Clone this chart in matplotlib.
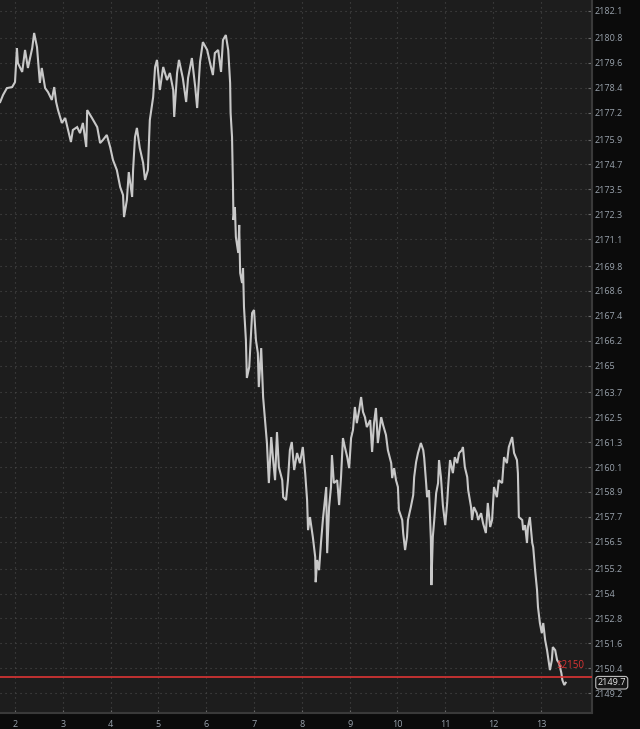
import matplotlib
matplotlib.use("Agg")
import matplotlib.pyplot as plt

# ---- data ----
hours = [1.69, 1.75, 1.83, 1.94, 2.00, 2.04, 2.06, 2.15, 2.21, 2.27, 2.36, 2.40, 2.46, 2.52, 2.56,
         2.63, 2.69, 2.77, 2.82, 2.86, 2.90, 2.98, 3.05, 3.11, 3.17, 3.21, 3.30, 3.36, 3.42, 3.49,
         3.51, 3.61, 3.72, 3.78, 3.84, 3.92, 3.99, 4.05, 4.13, 4.20, 4.26, 4.28, 4.34, 4.38, 4.45,
         4.47, 4.51, 4.55, 4.61, 4.68, 4.72, 4.78, 4.82, 4.89, 4.93, 4.97, 5.03, 5.10, 5.18, 5.24,
         5.31, 5.33, 5.39, 5.43, 5.51, 5.58, 5.62, 5.70, 5.77, 5.81, 5.87, 5.93, 6.02, 6.08, 6.14,
         6.18, 6.25, 6.31, 6.35, 6.41, 6.46, 6.50, 6.51, 6.54, 6.56, 6.57, 6.60, 6.62, 6.67, 6.69,
         6.71, 6.75, 6.77, 6.79, 6.83, 6.85, 6.90, 6.96, 7.00, 7.04, 7.08, 7.10, 7.15, 7.19, 7.23,
         7.27, 7.31, 7.36, 7.40, 7.44, 7.48, 7.52, 7.59, 7.61, 7.67, 7.71, 7.75, 7.79, 7.84, 7.90,
         7.96, 8.02, 8.07, 8.11, 8.13, 8.17, 8.23, 8.28, 8.29, 8.32, 8.36, 8.40, 8.44, 8.51, 8.53,
         8.57, 8.61, 8.63, 8.67, 8.74, 8.78, 8.82, 8.86, 8.90, 8.95, 8.99, 9.03, 9.07, 9.11, 9.15,
         9.20, 9.24, 9.28, 9.32, 9.36, 9.43, 9.47, 9.51, 9.55, 9.59, 9.66, 9.70, 9.76, 9.80, 9.87,
         9.89, 9.93, 9.97, 10.01, 10.03, 10.10, 10.12, 10.16, 10.20, 10.22, 10.28, 10.33, 10.35,
         10.39, 10.43, 10.49, 10.54, 10.56, 10.60, 10.62, 10.66, 10.70, 10.71, 10.74, 10.77, 10.81,
         10.85, 10.87, 10.91, 10.95, 11.00, 11.04, 11.06, 11.10, 11.16, 11.20, 11.25, 11.29, 11.35,
         11.37, 11.41, 11.46, 11.48, 11.54, 11.56, 11.60, 11.66, 11.69, 11.75, 11.79, 11.85, 11.89,
         11.94, 11.98, 12.02, 12.08, 12.12, 12.19, 12.23, 12.29, 12.33, 12.40, 12.44, 12.50, 12.52,
         12.54, 12.61, 12.63, 12.67, 12.71, 12.73, 12.77, 12.82, 12.84, 12.88, 12.92, 12.94, 12.98,
         13.02, 13.05, 13.09, 13.13, 13.15, 13.19, 13.23, 13.25, 13.30, 13.34, 13.38, 13.43, 13.45,
         13.49, 13.52]

prices = [2177.71, 2178.05, 2178.38, 2178.43, 2178.67, 2180.31, 2179.59, 2179.16, 2180.22, 2179.35,
          2180.31, 2181.04, 2180.36, 2178.63, 2179.35, 2178.38, 2178.19, 2177.81, 2178.43, 2177.71,
          2177.32, 2176.70, 2176.94, 2176.36, 2175.78, 2176.36, 2176.50, 2176.21, 2176.70, 2175.54,
          2177.32, 2176.94, 2176.50, 2175.73, 2175.88, 2176.12, 2175.54, 2174.91, 2174.43, 2173.61,
          2173.22, 2172.16, 2172.98, 2174.33, 2173.13, 2174.43, 2176.02, 2176.46, 2175.49, 2174.77,
          2173.95, 2174.43, 2176.84, 2177.95, 2179.40, 2179.74, 2178.29, 2179.40, 2178.77, 2179.11,
          2178.29, 2176.99, 2179.11, 2179.74, 2178.87, 2177.71, 2178.87, 2179.83, 2178.43, 2177.42,
          2179.64, 2180.60, 2180.22, 2179.59, 2179.01, 2180.07, 2180.22, 2179.16, 2180.70, 2180.94,
          2180.22, 2178.63, 2177.18, 2176.02, 2173.61, 2172.02, 2172.64, 2171.20, 2170.43, 2171.78,
          2169.46, 2168.98, 2169.70, 2167.82, 2166.23, 2164.40, 2164.93, 2167.53, 2167.68, 2166.23,
          2165.60, 2163.96, 2165.84, 2163.48, 2162.37, 2161.26, 2159.33, 2161.55, 2160.44, 2159.47,
          2161.79, 2160.10, 2159.47, 2158.65, 2158.51, 2159.47, 2160.92, 2161.31, 2159.96, 2160.78,
          2160.29, 2161.07, 2159.81, 2158.51, 2157.06, 2157.69, 2156.73, 2155.76, 2154.55, 2155.62,
          2155.13, 2156.44, 2157.55, 2159.14, 2155.95, 2158.17, 2159.14, 2160.68, 2159.33, 2159.47,
          2158.27, 2159.62, 2161.50, 2161.07, 2160.58, 2160.05, 2161.50, 2161.89, 2163.00, 2162.22,
          2162.85, 2163.48, 2162.76, 2162.51, 2162.03, 2162.37, 2160.83, 2162.22, 2162.95, 2161.26,
          2162.51, 2162.13, 2161.65, 2160.92, 2160.29, 2159.57, 2160.05, 2159.47, 2159.14, 2158.03,
          2157.55, 2156.92, 2156.10, 2156.73, 2157.55, 2158.17, 2158.75, 2159.62, 2160.34, 2160.78,
          2161.26, 2160.92, 2160.54, 2159.33, 2158.65, 2158.99, 2156.58, 2154.41, 2156.73, 2157.55,
          2158.85, 2159.33, 2160.44, 2159.62, 2158.27, 2157.30, 2158.37, 2159.14, 2160.44, 2159.81,
          2160.58, 2160.29, 2160.78, 2160.92, 2161.07, 2160.10, 2159.62, 2158.99, 2158.17, 2157.55,
          2158.17, 2157.88, 2157.55, 2157.88, 2157.40, 2156.92, 2158.37, 2157.21, 2157.55, 2159.14,
          2158.65, 2159.47, 2159.33, 2160.58, 2160.29, 2161.07, 2161.55, 2160.78, 2160.44, 2159.81,
          2157.69, 2157.55, 2157.06, 2157.30, 2156.44, 2157.21, 2157.69, 2156.44, 2156.24, 2155.13,
          2154.17, 2153.35, 2152.58, 2152.09, 2152.58, 2151.76, 2151.27, 2150.94, 2150.31, 2150.79,
          2151.42, 2151.27, 2150.79, 2150.65, 2150.16, 2149.83, 2149.59, 2149.70]

x_ticks = [2, 3, 4, 5, 6, 7, 8, 9, 10, 11, 12, 13]
x_tick_labels = ["2", "3", "4", "5", "6", "7", "8", "9", "10", "11", "12", "13"]
y_ticks = [2149.2, 2150.4, 2151.6, 2152.8, 2154.0, 2155.2, 2156.5, 2157.7, 2158.9, 2160.1,
           2161.3, 2162.5, 2163.7, 2165.0, 2166.2, 2167.4, 2168.6, 2169.8, 2171.1, 2172.3,
           2173.5, 2174.7, 2175.9, 2177.2, 2178.4, 2179.6, 2180.8, 2182.1]
y_tick_labels = ["2149.2", "2150.4", "2151.6", "2152.8", "2154", "2155.2", "2156.5", "2157.7",
                 "2158.9", "2160.1", "2161.3", "2162.5", "2163.7", "2165", "2166.2", "2167.4",
                 "2168.6", "2169.8", "2171.1", "2172.3", "2173.5", "2174.7", "2175.9", "2177.2",
                 "2178.4", "2179.6", "2180.8", "2182.1"]
alert_level = 2150.0
alert_label = "$2150"
last_price = 2149.7
last_label = "2149.7"

# ---- styling ----
bg_fig = "#0b0b0b"
bg_ax = "#1d1d1d"
tick_col = "#9aa3ad"
grid_col = "#4a4a4a"
line_col = "#c8c8c8"
red = "#dc3434"

fig = plt.figure(figsize=(6.4, 7.29), dpi=100, facecolor=bg_fig)
ax = fig.add_axes([0.0, 16 / 729, 592 / 640, 713 / 729])
ax.set_facecolor(bg_ax)

ax.plot(hours, prices, color=line_col, lw=1.5, solid_joinstyle="miter", zorder=3)
ax.axhline(alert_level, color=red, lw=1.2, zorder=4)

ax.set_xlim(1.686, 14.07)
ax.set_ylim(2148.24, 2182.63)

ax.yaxis.tick_right()
ax.set_yticks(y_ticks)
ax.set_yticklabels(y_tick_labels)
ax.set_xticks(x_ticks)
ax.set_xticklabels(x_tick_labels)
ax.tick_params(axis="y", direction="in", length=3, width=0.8, color="#6a6a6a",
               labelcolor=tick_col, labelsize=6.5, pad=2)
ax.tick_params(axis="x", direction="in", length=2, width=0.8, color="#6a6a6a",
               labelcolor=tick_col, labelsize=6.5, pad=5)
for lbl in ax.get_xticklabels() + ax.get_yticklabels():
    lbl.set_fontfamily("Open Sans")

ax.grid(True, color=grid_col, lw=0.8, linestyle=(0, (1, 3.5)))
ax.set_axisbelow(True)

for side in ("top", "left"):
    ax.spines[side].set_visible(False)
for side in ("right", "bottom"):
    ax.spines[side].set_color("#3a3a3a")
    ax.spines[side].set_linewidth(1.5)

# alert label
ax.text(13.32, alert_level + 0.4, alert_label, color=red, fontsize=7,
        fontfamily="Open Sans", ha="left", va="baseline", zorder=5)

# last price box on the right axis
ax.annotate(last_label, xy=(1.0, last_price), xycoords=("axes fraction", "data"),
            xytext=(4, 0), textcoords="offset points", ha="left", va="center",
            fontsize=6.5, fontfamily="Open Sans", color="#e6e6e6",
            bbox=dict(boxstyle="round,pad=0.2,rounding_size=0.3", fc="#151515",
                      ec="#bdbdbd", lw=0.8),
            annotation_clip=False, zorder=6)

fig.savefig("out.png", dpi=100, facecolor=bg_fig)
